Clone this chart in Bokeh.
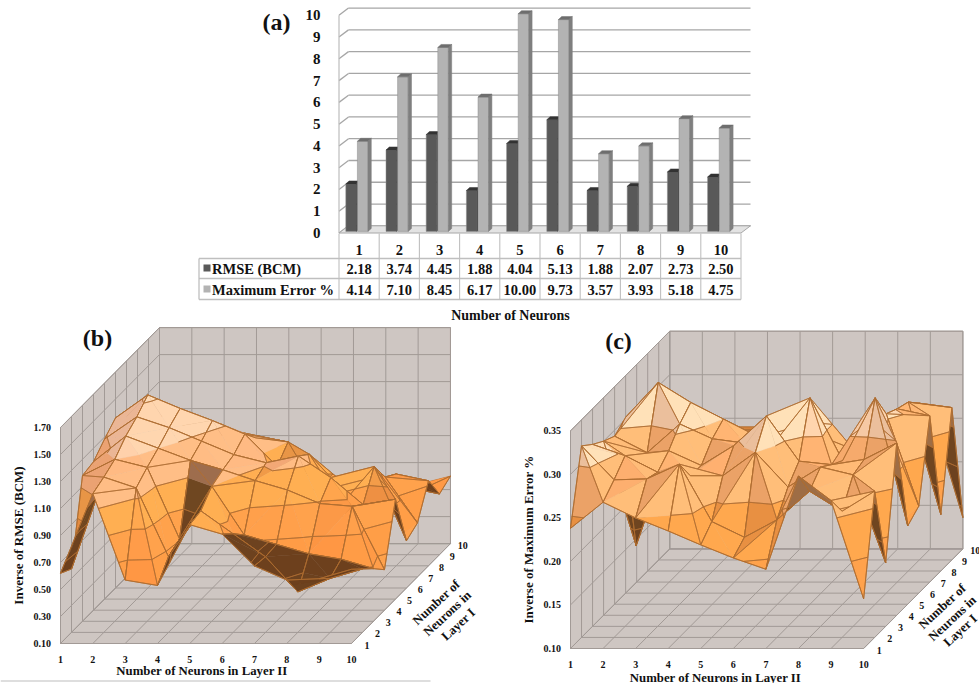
from bokeh.plotting import figure
from bokeh.models import Range1d, FixedTicker, Spacer
from bokeh.layouts import column, row
from bokeh.core.properties import value
from bokeh.embed import file_html
from bokeh.resources import INLINE

# ---------- data ----------
neurons = [1, 2, 3, 4, 5, 6, 7, 8, 9, 10]
rmse = [2.18, 3.74, 4.45, 1.88, 4.04, 5.13, 1.88, 2.07, 2.73, 2.50]
max_error = [4.14, 7.10, 8.45, 6.17, 10.00, 9.73, 3.57, 3.93, 5.18, 4.75]
rmse_labels = ["2.18", "3.74", "4.45", "1.88", "4.04", "5.13", "1.88", "2.07", "2.73", "2.50"]
max_labels = ["4.14", "7.10", "8.45", "6.17", "10.00", "9.73", "3.57", "3.93", "5.18", "4.75"]

# rows: Neurons in Layer I = 1..10, columns: Neurons in Layer II = 1..10
inv_rmse = [
    [0.62, 1.21, 0.57, 0.53, 0.98, 0.91, 0.675, 0.57, 0.58, 0.65],
    [0.57, 1.25, 1.17, 0.66, 1.00, 0.83, 0.66, 0.40, 0.50, 0.57],
    [1.18, 1.30, 1.24, 0.71, 1.10, 0.74, 0.67, 0.60, 0.56, 0.49],
    [1.20, 1.39, 1.30, 1.21, 1.14, 1.06, 0.99, 0.89, 0.87, 0.40],
    [1.285, 1.45, 1.37, 1.27, 1.17, 1.11, 1.16, 1.00, 0.80, 0.84],
    [1.36, 1.53, 1.43, 1.34, 1.24, 1.00, 1.09, 0.72, 1.00, 0.45],
    [1.30, 1.30, 1.20, 1.15, 1.13, 1.10, 0.70, 0.74, 0.84, 0.50],
    [1.25, 1.20, 1.15, 1.05, 1.03, 0.91, 0.55, 0.60, 0.78, 0.73],
    [1.20, 1.10, 1.05, 0.98, 0.95, 0.70, 0.40, 0.50, 0.60, 0.55],
    [1.10, 1.00, 0.95, 0.90, 0.85, 0.60, 0.45, 0.50, 0.49, 0.60],
]
inv_maxerr = [
    [0.238, 0.268, 0.250, 0.235, 0.219, 0.204, 0.191, 0.298, 0.270, 0.157],
    [0.320, 0.281, 0.282, 0.299, 0.233, 0.215, 0.235, 0.268, 0.245, 0.268],
    [0.309, 0.296, 0.277, 0.273, 0.273, 0.300, 0.260, 0.283, 0.274, 0.173],
    [0.300, 0.180, 0.289, 0.272, 0.295, 0.329, 0.277, 0.273, 0.279, 0.298],
    [0.293, 0.274, 0.307, 0.290, 0.285, 0.290, 0.337, 0.265, 0.337, 0.190],
    [0.302, 0.342, 0.319, 0.300, 0.281, 0.286, 0.280, 0.265, 0.306, 0.200],
    [0.260, 0.280, 0.280, 0.270, 0.260, 0.240, 0.220, 0.225, 0.299, 0.291],
    [0.250, 0.260, 0.260, 0.260, 0.250, 0.230, 0.210, 0.215, 0.294, 0.165],
    [0.240, 0.250, 0.250, 0.250, 0.240, 0.220, 0.210, 0.215, 0.280, 0.275],
    [0.230, 0.240, 0.240, 0.240, 0.230, 0.220, 0.200, 0.210, 0.260, 0.136],
]
z_ticks_b = [0.10, 0.30, 0.50, 0.70, 0.90, 1.10, 1.30, 1.50, 1.70]
z_ticks_c = [0.10, 0.15, 0.20, 0.25, 0.30, 0.35]
# faces read as dark in panel (b): (column, row) indices of grid cells
dark_cells_b = [(3, 0), (3, 1), (3, 2), (5, 0), (6, 0), (7, 0), (8, 0), (5, 1), (6, 1), (7, 1), (8, 1)]

SERIF = value("Liberation Serif")
DARK, LIGHT = "#595959", "#B3B3B3"


# ---------- panel (a) ----------
def panel_a():
    W, H = 580, 325
    ux, uy = 40.2, 21.77          # px per category, px per value
    x0 = 0.5 - (338.5 - 190) / ux
    x1 = x0 + W / ux
    y1 = 232.5 / uy
    y0 = y1 - H / uy
    p = figure(width=W, height=H, output_backend="svg", toolbar_location=None,
               x_range=Range1d(x0, x1), y_range=Range1d(y0, y1), min_border=0,
               outline_line_color=None, tools="")
    p.grid.visible = False
    p.xaxis.visible = False
    ax = p.yaxis[0]
    ax.fixed_location = 0.19
    ax.ticker = FixedTicker(ticks=list(range(11)))
    ax.major_tick_line_color = None
    ax.minor_tick_line_color = None
    ax.axis_line_color = None
    ax.major_label_text_font = "Liberation Serif"
    ax.major_label_text_font_style = "bold"
    ax.major_label_text_font_size = "15px"
    ax.major_label_text_color = "#111111"
    ax.major_label_standoff = 0

    dx, dy = 9.5 / ux, 7.2 / uy   # depth of the floor, in data units
    right = 10.5
    ticks = list(range(11))
    p.segment([0.5] * 11, ticks, [0.5 + dx] * 11, [t + dy for t in ticks],
              line_color="#A6A6A6", line_width=1.3)
    p.segment([0.5 + dx] * 11, [t + dy for t in ticks], [right + dx] * 11, [t + dy for t in ticks],
              line_color="#A6A6A6", line_width=1.3)
    p.segment([0.5], [0], [0.5], [10], line_color="#BDBDBD", line_width=1.2)
    p.patch([0.5, right, right + dx, 0.5 + dx], [0, 0, dy, dy], fill_color="#E3E3E3",
            line_color="#A6A6A6", line_width=1)

    w = 10.6 / ux
    sx, sy = 3.3 / ux, 3.0 / uy
    base = 1.6 / uy
    for offs, vals, front, side, top in (
        (-8.0 / ux, rmse, DARK, "#3F3F3F", "#333333"),
        (3.6 / ux, max_error, LIGHT, "#7F7F7F", "#6E6E6E"),
    ):
        for n, v in zip(neurons, vals):
            l = n + offs - w / 2
            r = l + w
            p.quad(left=l, right=r, bottom=base, top=v + base, fill_color=front,
                   line_color="#8C8C8C", line_width=0.5)
            p.patch([r, r + sx, r + sx, r], [base, base + sy, v + base + sy, v + base],
                    fill_color=side, line_color=side, line_width=0.5)
            p.patch([l, r, r + sx, l + sx], [v + base, v + base, v + base + sy, v + base + sy],
                    fill_color=top, line_color=top, line_width=0.5)

    # data table under the chart
    y_top = -0.5 / uy
    y_hdr = -(258 - 232.5) / uy
    y_r1 = -(278 - 232.5) / uy
    y_r2 = -(299 - 232.5) / uy
    left = 0.5 - (338.5 - 198.5) / ux
    grid = "#BFBFBF"
    p.segment(left, [y_hdr, y_r1, y_r2], right, [y_hdr, y_r1, y_r2], line_color=grid, line_width=1.3)
    p.segment(left, y_hdr, left, y_r2, line_color=grid, line_width=1.3)
    cols = [0.5 + i for i in range(11)]
    p.segment(cols, [y_top] * 11, cols, [y_r2] * 11, line_color=grid, line_width=1.1)

    tk = dict(text_font=SERIF, text_font_style="bold", text_align="center",
              text_baseline="middle", text_color="#111111", text_font_size="14.5px")
    p.text(neurons, [-(249 - 232.5) / uy] * 10, text=[str(n) for n in neurons], **tk)
    p.text(neurons, [-(268 - 232.5) / uy] * 10, text=rmse_labels, **tk)
    p.text(neurons, [-(289 - 232.5) / uy] * 10, text=max_labels, **tk)
    tl = dict(tk, text_align="left")
    lx = left + 13 / ux
    p.text([lx], [-(268 - 232.5) / uy], text=["RMSE (BCM)"], **tl)
    p.text([lx], [-(289 - 232.5) / uy], text=["Maximum Error %"], **tl)
    sw0 = left + 4.5 / ux
    sw1 = left + 11.5 / ux
    p.quad(left=[sw0], right=[sw1], bottom=[-(271 - 232.5) / uy], top=[-(264 - 232.5) / uy],
           fill_color=DARK, line_color=None)
    p.quad(left=[sw0], right=[sw1], bottom=[-(292 - 232.5) / uy], top=[-(285 - 232.5) / uy],
           fill_color=LIGHT, line_color=None)
    p.text([0.5 + (510 - 338.5) / ux], [-(315 - 232.5) / uy], text=["Number of Neurons"],
           **dict(tk, text_font_size="14px"))
    p.text([0.5 + (276 - 338.5) / ux], [-(21 - 232.5) / uy], text=["(a)"],
           **dict(tk, text_font_size="24px"))
    return p


# ---------- 3D surfaces ----------
def clip_band(tri, lo, hi):
    """Clip a polygon of (x, y, z) points to lo <= z <= hi."""
    def clip(poly, level, keep_above):
        out = []
        n = len(poly)
        for i in range(n):
            a, b = poly[i], poly[(i + 1) % n]
            ina = a[2] >= level if keep_above else a[2] <= level
            inb = b[2] >= level if keep_above else b[2] <= level
            if ina:
                out.append(a)
            if ina != inb:
                t = (level - a[2]) / (b[2] - a[2])
                out.append((a[0] + t * (b[0] - a[0]), a[1] + t * (b[1] - a[1]), level))
        return out
    poly = clip(tri, lo, True)
    if poly:
        poly = clip(poly, hi, False)
    return poly


def shade(rgb, f):
    return "#%02X%02X%02X" % tuple(max(0, min(255, int(round(c * f)))) for c in rgb)


def surface_panel(Z, zticks, band_colors, org, ex, ey, ez, W, H, px0, py0, dark_cells,
                  ylabel, tag, tagpos, xlabel_y, depth_pos, title_size=24):
    """org: screen point of (1,1,zmin); ex, ey: screen steps per index; ez: px per z-unit."""
    p = figure(width=W, height=H, output_backend="svg", toolbar_location=None,
               x_range=Range1d(px0, px0 + W), y_range=Range1d(py0 + H, py0), min_border=0,
               outline_line_color=None, tools="")
    p.grid.visible = False
    p.axis.visible = False
    zmin, zmax = zticks[0], zticks[-1]

    def P(x, y, z):
        return (org[0] + ex * (x - 1) + ey[0] * (y - 1),
                org[1] + ey[1] * (y - 1) - (z - zmin) * ez)

    wall, gl = "#CEC6C2", "#A29A96"
    for quad in ([(1, 1, zmin), (10, 1, zmin), (10, 10, zmin), (1, 10, zmin)],
                 [(1, 1, zmin), (1, 10, zmin), (1, 10, zmax), (1, 1, zmax)],
                 [(1, 10, zmin), (10, 10, zmin), (10, 10, zmax), (1, 10, zmax)]):
        pts = [P(*q) for q in quad]
        p.patch([a[0] for a in pts], [a[1] for a in pts], fill_color=wall, line_color=gl, line_width=1)
    sx0, sy0, sx1, sy1 = [], [], [], []

    def seg(a, b):
        A, B = P(*a), P(*b)
        sx0.append(A[0]); sy0.append(A[1]); sx1.append(B[0]); sy1.append(B[1])
    for i in range(1, 11):
        seg((i, 1, zmin), (i, 10, zmin))
        seg((1, i, zmin), (10, i, zmin))
        seg((i, 10, zmin), (i, 10, zmax))
        seg((1, i, zmin), (1, i, zmax))
    for t in zticks:
        seg((1, 1, t), (1, 10, t))
        seg((1, 10, t), (10, 10, t))
    p.segment(sx0, sy0, sx1, sy1, line_color=gl, line_width=1)

    xs, ys, fills, lines, falpha, widths = [], [], [], [], [], []

    def add(pts, fill, line, fa, w):
        xs.append([a[0] for a in pts]); ys.append([a[1] for a in pts])
        fills.append(fill); lines.append(line); falpha.append(fa); widths.append(w)

    edge = "#AD6C30"
    nb = len(zticks) - 1
    scale = zmax - zmin
    for j in range(8, -1, -1):
        for i in range(9):
            c = [(i + 1, j + 1, Z[j][i]), (i + 2, j + 1, Z[j][i + 1]),
                 (i + 2, j + 2, Z[j + 1][i + 1]), (i + 1, j + 2, Z[j + 1][i])]
            # the crease runs along the diagonal with the higher midpoint
            fold = c[0][2] + c[2][2] - c[1][2] - c[3][2]
            if fold >= 0:
                tris = [[c[0], c[1], c[2]], [c[0], c[2], c[3]]]
                crease = (c[0], c[2])
            else:
                tris = [[c[0], c[1], c[3]], [c[1], c[2], c[3]]]
                crease = (c[1], c[3])
            tris.sort(key=lambda t: sum(0.34 * v[0] - v[1] for v in t))
            segs = []
            for tri in tris:
                sp = [P(*v) for v in tri]
                area = sum(sp[k][0] * sp[(k + 1) % 3][1] - sp[(k + 1) % 3][0] * sp[k][1] for k in range(3))
                seen_from_below = area > 0 or (i, j) in dark_cells
                v1 = [tri[1][k] - tri[0][k] for k in range(3)]
                v2 = [tri[2][k] - tri[0][k] for k in range(3)]
                nz = v1[0] * v2[1] - v1[1] * v2[0]
                nx = v1[1] * v2[2] - v1[2] * v2[1]
                ny = v1[2] * v2[0] - v1[0] * v2[2]
                slope_x = nx / nz if nz else 0   # positive where z rises along x
                slope_y = ny / nz if nz else 0   # positive where z rises along y
                for b in range(nb):
                    poly = clip_band(tri, zticks[b], zticks[b + 1])
                    if len(poly) < 3:
                        continue
                    col = band_colors[min(b, len(band_colors) - 1)]
                    if seen_from_below:
                        f = 0.62 if col[2] > 110 else 0.44
                    else:
                        f = 1 + max(-0.08, min(0.08, slope_x / scale * 1.5))
                        f -= min(0.2, max(0.0, slope_y / scale * 0.45))
                    scr = [P(*v) for v in poly]
                    add(scr, shade(col, f), shade(col, f), 1, 0.4)
                for lv in zticks[1:-1]:
                    pts = []
                    for k in range(3):
                        a, b2 = tri[k], tri[(k + 1) % 3]
                        if (a[2] - lv) * (b2[2] - lv) < 0:
                            t = (lv - a[2]) / (b2[2] - a[2])
                            pts.append((a[0] + t * (b2[0] - a[0]), a[1] + t * (b2[1] - a[1]), lv))
                    if len(pts) == 2:
                        segs.append([P(*pts[0]), P(*pts[1])])
            for s in segs:
                add(s, edge, edge, 0, 0.7)
            if abs(fold) > 0.12 * scale:
                add([P(*crease[0]), P(*crease[1])], edge, edge, 0, 0.7)
            for k in range(4):
                add([P(*c[k]), P(*c[(k + 1) % 4])], edge, edge, 0, 0.8)
    p.patches(xs, ys, fill_color=fills, line_color=lines, fill_alpha=falpha, line_width=widths)

    tk = dict(text_font=SERIF, text_font_style="bold", text_align="center",
              text_baseline="middle", text_color="#111111", text_font_size="10px")
    xt = [P(i, 1, zmin) for i in neurons]
    p.text([a[0] for a in xt], [a[1] + 16 for a in xt], text=[str(n) for n in neurons], **tk)
    yt = [P(10, i, zmin) for i in neurons]
    p.text([a[0] + 15.5 - (i - 1) * 0.35 for i, a in zip(neurons, yt)], [a[1] + 1.5 for a in yt],
           text=[str(n) for n in neurons], **tk)
    zt = [P(1, 1, t) for t in zticks]
    fmt = ["%.2f" % t for t in zticks]
    p.text([a[0] - 9.5 for a in zt], [a[1] for a in zt], text=fmt,
           **dict(tk, text_align="right"))
    p.text([xlabel_y[0]], [xlabel_y[1]], text=["Number of Neurons in Layer II"],
           **dict(tk, text_font_size="12.8px"))
    p.text([ylabel[0]], [ylabel[1]], text=[ylabel[2]], angle=1.5708,
           **dict(tk, text_font_size="13px"))
    for (dxp, dyp, s) in zip(*depth_pos):
        p.text([dxp], [dyp], text=[s], angle=0.75,
               **dict(tk, text_font_size="12.8px"))
    p.text([tagpos[0]], [tagpos[1]], text=[tag], **dict(tk, text_font_size="%dpx" % title_size))
    return p


bands_b = [(247, 150, 70), (247, 150, 70), (247, 146, 66), (247, 150, 70), (252, 162, 76),
           (255, 176, 124), (255, 198, 162), (255, 205, 170)]
bands_c = [(247, 150, 70), (247, 150, 70), (252, 156, 72), (255, 176, 112), (255, 208, 170)]

p_b = surface_panel(inv_rmse, z_ticks_b, bands_b, (60, 643), 32.33, (11, -11.1), 135.0,
                    490, 358, 0, 325, dark_cells_b,
                    (18, 535, "Inverse of RMSE (BCM)"), "(b)", (97, 337), (201.5, 670),
                    ((436, 447, 458), (602, 613, 624), ("Number of", "Neurons in", "Layer I")))
p_b.segment([0], [680.5], [430], [680.5], line_color="#BDBDBD", line_width=1)
p_c = surface_panel(inv_maxerr, z_ticks_c, bands_c, (570, 648), 32.57, (11.03, -11.07), 870.7,
                    489, 358, 490, 325, [],
                    (528, 539, "Inverse of Maximum Error %"), "(c)", (618, 340), (715, 677),
                    ((942, 952, 960), (606, 618, 630), ("Number of", "Neurons in", "Layer I")))

p_a = panel_a()
page = column(row(Spacer(width=190, height=325), p_a), row(p_b, p_c), spacing=0)
open("out.html", "w").write(file_html(page, INLINE))
